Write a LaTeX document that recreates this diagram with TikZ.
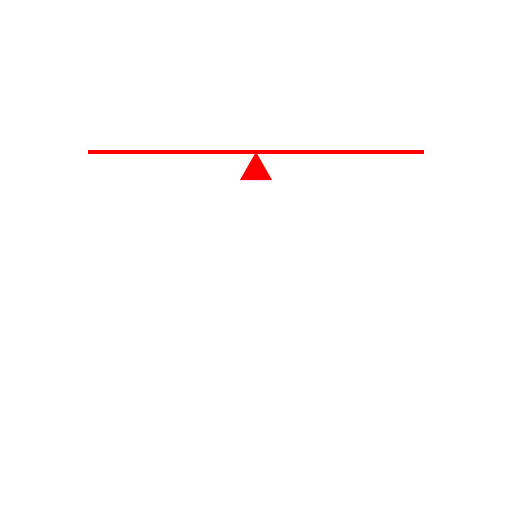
\documentclass[tikz,border=0pt]{standalone}
\usepackage{tikz}
\usetikzlibrary{calc}
\definecolor{beamred}{RGB}{255,0,0}

\begin{document}
\begin{tikzpicture}[x=0.02cm, y=-0.02cm,
    beam/.style={draw=beamred, line width=0.08cm},
    pivot/.style={fill=beamred, draw=none}
]
    % Canvas
    \useasboundingbox (0,0) rectangle (512,512);

    % Beam
    \coordinate (beamleft) at (88,152);
    \coordinate (beamright) at (424,152);
    \draw[beam] (beamleft) -- (beamright);

    % Pivot
    \coordinate (apex) at (256,152);
    \fill[pivot] (apex) -- (272,180) -- (240,180) -- cycle;
\end{tikzpicture}
\end{document}
